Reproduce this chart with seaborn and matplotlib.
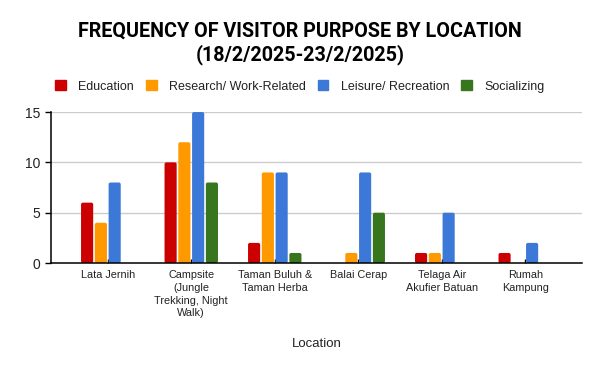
import matplotlib
matplotlib.use("Agg")
import matplotlib.pyplot as plt
import pandas as pd
import seaborn as sns
from matplotlib.patches import FancyBboxPatch

locations = [
    "Lata Jernih",
    "Campsite\n(Jungle\nTrekking, Night\nWalk)",
    "Taman Buluh &\nTaman Herba",
    "Balai Cerap",
    "Telaga Air\nAkufier Batuan",
    "Rumah\nKampung",
]
purposes = ["Education", "Research/ Work-Related", "Leisure/ Recreation", "Socializing"]
education = [6, 10, 2, 0, 1, 1]
research = [4, 12, 9, 1, 1, 0]
leisure = [8, 15, 9, 9, 5, 2]
socializing = [0, 8, 1, 5, 0, 0]
colors = ["#cc0000", "#ff9900", "#3c78d8", "#38761d"]

rows = []
for purpose, values in zip(purposes, [education, research, leisure, socializing]):
    for loc, v in zip(locations, values):
        rows.append({"Location": loc, "Purpose": purpose, "Count": v})
df = pd.DataFrame(rows)

sns.set_theme(style="white")
plt.rcParams["font.family"] = ["Roboto", "DejaVu Sans"]
label_font = ["Liberation Sans", "DejaVu Sans"]

fig = plt.figure(figsize=(6, 3.71), dpi=100)
ax = fig.add_axes([0.085, 0.291, 0.885, 0.407])

sns.barplot(
    data=df, x="Location", y="Count", hue="Purpose", hue_order=purposes,
    palette=colors, width=0.66, gap=0.12, saturation=1, ax=ax, legend=False,
)

ax.set_ylim(0, 15)
ax.set_yticks([0, 5, 10, 15])
ax.set_xlim(-0.68, 5.68)

# swap the square bars for slightly rounded ones
for bar in list(ax.patches):
    h = bar.get_height()
    if h <= 0:
        bar.remove()
        continue
    rounded = FancyBboxPatch(
        (bar.get_x(), bar.get_y()), bar.get_width(), h,
        boxstyle="round,pad=0,rounding_size=0.022", mutation_aspect=8.3,
        facecolor=bar.get_facecolor(), edgecolor="none", zorder=bar.get_zorder(),
    )
    bar.remove()
    ax.add_patch(rounded)

ax.yaxis.grid(True, color="#cccccc", linewidth=1)
ax.set_axisbelow(True)
for side in ["top", "right"]:
    ax.spines[side].set_visible(False)
for side in ["left", "bottom"]:
    ax.spines[side].set_color("black")
    ax.spines[side].set_linewidth(1.1)
    ax.spines[side].set_zorder(5)

ax.tick_params(axis="y", direction="out", length=4.5, width=1, color="black",
               labelsize=10, labelcolor="#222222", pad=3, left=True)
ax.tick_params(axis="x", direction="in", length=3, width=1, color="black",
               labelsize=7.8, labelcolor="#222222", pad=5, bottom=True)
for lbl in ax.get_xticklabels():
    lbl.set_family(label_font)
    lbl.set_linespacing(1.35)
for lbl in ax.get_yticklabels():
    lbl.set_family(label_font)

ax.set_ylabel("")
ax.set_xlabel("Location", fontsize=9.5, color="#222222", labelpad=14)
ax.xaxis.label.set_family(label_font)

fig.text(0.5, 0.883, "FREQUENCY OF VISITOR PURPOSE BY LOCATION\n(18/2/2025-23/2/2025)",
         ha="center", va="center", fontsize=14.2, fontweight="bold", color="black",
         linespacing=1.25)

handles = [plt.Rectangle((0, 0), 1, 1, color=c) for c in colors]
fig.legend(handles, purposes, loc="center", bbox_to_anchor=(0.5, 0.767), ncol=4,
           frameon=False, handlelength=0.85, handleheight=0.85, handletextpad=1.0,
           columnspacing=0.95, prop={"family": label_font, "size": 9},
           labelcolor="#222222")

fig.savefig("out.png", dpi=100)
